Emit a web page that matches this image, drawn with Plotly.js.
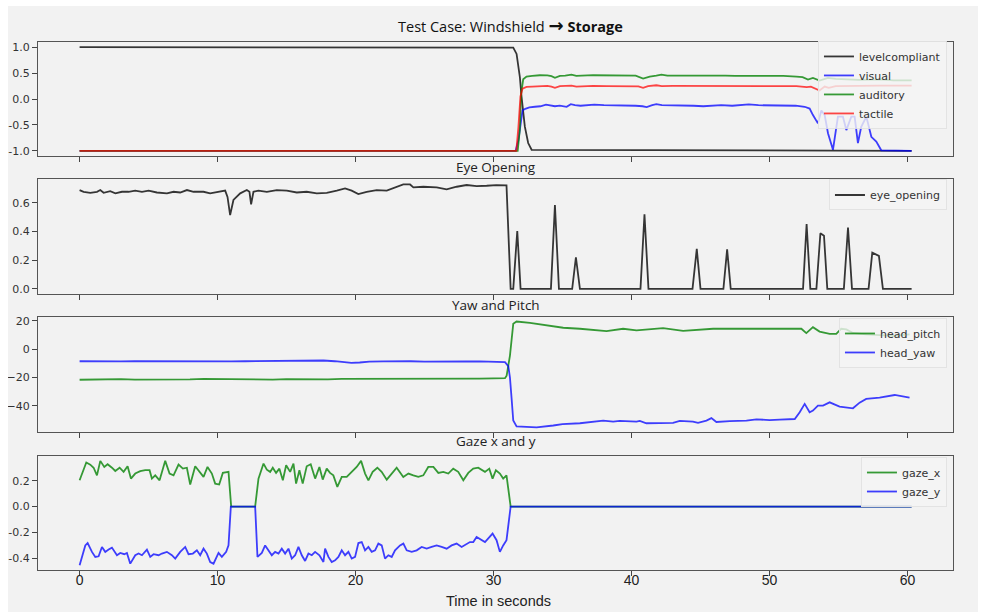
<!DOCTYPE html>
<html>
<head>
<meta charset="utf-8">
<script src="https://cdn.plot.ly/plotly-3.0.1.min.js"></script>
<style>
  html, body { margin: 0; padding: 0; background: #ffffff; }
  #chart { position: absolute; left: 8px; top: 6px; width: 970px; height: 606px; }
</style>
</head>
<body>
<div id="chart"></div>
<script>
// ---------------- DATA ----------------
// Panel 1: compliance levels
const lcT = [0, 31.2, 31.43, 31.67, 31.91, 32.03, 32.27, 32.51, 32.76, 60.3];
const lcV = [1, 1, 0.99, 0.87, 0.42, 0.04, -0.535, -0.85, -0.98, -1];

const visT = [0, 31.6, 31.8, 31.95, 32.1, 32.3, 32.6, 33.0, 33.4, 33.8, 34.2, 34.45, 34.8, 35.3, 35.6, 35.9, 36.3, 36.8, 37.3, 38.0, 38.7, 39.4, 40.3, 40.8, 41.1, 41.5, 41.8, 42.2, 43.0, 43.8, 44.5, 45.2, 45.8, 46.5, 47.3, 48.0, 48.5, 49.2, 50.0, 51.0, 51.9, 52.55, 52.91, 53.15, 53.51, 53.76, 54.0, 54.24, 54.6, 54.96, 55.32, 55.57, 55.93, 56.17, 56.41, 56.65, 57.02, 57.38, 57.74, 58.1, 60.3];
const visV = [-1, -1, -0.8, -0.45, -0.22, -0.19, -0.16, -0.15, -0.14, -0.11, -0.12, -0.14, -0.13, -0.15, -0.1, -0.12, -0.13, -0.12, -0.11, -0.12, -0.12, -0.125, -0.13, -0.14, -0.155, -0.12, -0.1, -0.12, -0.12, -0.13, -0.13, -0.14, -0.13, -0.12, -0.13, -0.12, -0.105, -0.12, -0.12, -0.12, -0.13, -0.15, -0.185, -0.31, -0.47, -0.22, -0.31, -0.66, -0.98, -0.34, -0.34, -0.6, -0.34, -0.34, -0.85, -0.535, -0.34, -0.73, -0.82, -0.99, -1];

const audT = [0, 31.75, 31.9, 32.0, 32.15, 32.39, 32.8, 33.36, 33.9, 34.2, 34.45, 34.81, 35.2, 35.65, 36.0, 36.26, 36.8, 37.22, 38.0, 38.67, 39.5, 40.3, 40.84, 41.32, 41.8, 42.17, 42.6, 43.5, 44.5, 45.2, 45.91, 46.8, 47.5, 48.33, 49.2, 50.1, 51.0, 51.95, 52.4, 52.79, 53.15, 53.63, 54.24, 54.8, 55.57, 56.5, 57.98, 59.0, 60.3];
const audV = [-1, -1, -0.6, 0.1, 0.38, 0.433, 0.445, 0.458, 0.455, 0.44, 0.408, 0.446, 0.45, 0.471, 0.448, 0.446, 0.455, 0.458, 0.455, 0.452, 0.452, 0.45, 0.395, 0.433, 0.45, 0.471, 0.45, 0.452, 0.45, 0.446, 0.446, 0.452, 0.446, 0.446, 0.45, 0.446, 0.446, 0.433, 0.42, 0.376, 0.408, 0.357, 0.408, 0.39, 0.38, 0.37, 0.38, 0.36, 0.36];

const tacT = [0, 31.65, 31.8, 31.95, 32.1, 32.39, 32.8, 33.36, 33.9, 34.2, 34.45, 34.81, 35.3, 35.65, 36.0, 36.5, 37.22, 38.2, 39.0, 40.0, 40.5, 40.84, 41.2, 41.8, 42.2, 43.0, 44.0, 45.0, 46.0, 47.0, 48.0, 49.0, 50.0, 51.0, 51.95, 52.7, 53.0, 53.63, 54.0, 54.3, 54.8, 55.5, 56.5, 58.0, 59.5, 60.3];
const tacV = [-1, -1, -0.55, 0.05, 0.2, 0.235, 0.24, 0.25, 0.255, 0.24, 0.216, 0.25, 0.25, 0.26, 0.24, 0.25, 0.255, 0.25, 0.25, 0.25, 0.245, 0.216, 0.25, 0.265, 0.25, 0.252, 0.25, 0.248, 0.25, 0.25, 0.25, 0.248, 0.25, 0.248, 0.25, 0.229, 0.24, 0.165, 0.24, 0.216, 0.25, 0.255, 0.255, 0.26, 0.26, 0.26];

// Panel 2: eye opening
const eyeT = [0, 0.29, 0.775, 1.26, 1.5, 1.74, 2.22, 2.59, 3.07, 3.55, 4.03, 4.52, 5.0, 5.6, 6.33, 6.81, 7.29, 7.78, 8.26, 8.98, 9.46, 10.07, 10.55, 10.72, 10.91, 11.15, 11.64, 12.12, 12.31, 12.43, 12.6, 12.96, 13.57, 14.29, 15.02, 15.74, 16.46, 17.19, 17.91, 18.64, 19.24, 19.72, 20.2, 20.81, 21.53, 22.26, 22.98, 23.46, 23.95, 24.19, 24.91, 25.88, 26.6, 27.33, 28.05, 28.78, 29.5, 30.2, 30.94, 31.24, 31.43, 31.72, 31.96, 34.16, 34.45, 34.74, 35.7, 35.97, 36.26, 40.65, 40.94, 41.23, 44.42, 44.73, 45.0, 46.66, 46.93, 47.19, 52.43, 52.69, 52.96, 53.4, 53.69, 53.95, 54.19, 55.39, 55.69, 55.98, 57.18, 57.45, 57.93, 58.22, 60.3];
const eyeV = [0.688, 0.676, 0.669, 0.676, 0.688, 0.669, 0.68, 0.665, 0.676, 0.676, 0.684, 0.676, 0.684, 0.671, 0.665, 0.676, 0.671, 0.688, 0.676, 0.676, 0.665, 0.676, 0.684, 0.64, 0.514, 0.619, 0.665, 0.688, 0.676, 0.588, 0.676, 0.684, 0.676, 0.688, 0.684, 0.671, 0.676, 0.665, 0.669, 0.684, 0.70, 0.684, 0.66, 0.676, 0.688, 0.684, 0.711, 0.728, 0.727, 0.707, 0.711, 0.707, 0.693, 0.711, 0.723, 0.716, 0.718, 0.722, 0.72, 0, 0, 0.403, 0, 0, 0.584, 0, 0, 0.22, 0, 0, 0.519, 0, 0, 0.278, 0, 0, 0.275, 0, 0, 0.452, 0, 0, 0.387, 0.37, 0, 0, 0.426, 0, 0, 0.252, 0.229, 0, 0];

// Panel 3: head yaw and pitch
const pitchT = [0, 1, 2, 3, 4, 5, 6, 7, 8, 9, 10, 11, 12, 13, 14, 15, 16, 17, 18, 19, 20, 21, 22, 23, 24, 25, 26, 27, 28, 29, 30, 30.83, 30.95, 31.19, 31.43, 31.67, 32.64, 33.84, 35.05, 36.26, 38.19, 39.39, 40.36, 42.29, 43.74, 45.91, 48.33, 50.74, 51.83, 52.31, 52.67, 53.15, 53.63, 54.36, 54.84, 55.2, 55.57, 56.05, 57.0, 58.0, 59.0, 60.15];
const pitchV = [-21.6, -21.3, -21.4, -21.2, -21.5, -21.6, -21.3, -21.5, -21.4, -21.0, -21.2, -21.4, -21.6, -21.3, -21.5, -21.2, -21.3, -21.5, -21.3, -21.0, -21.0, -21.1, -21.3, -20.9, -21.2, -21.0, -20.8, -20.9, -21.0, -20.8, -20.7, -20.5, -18.7, -4.5, 18.0, 19.6, 18.7, 16.8, 15.2, 14.5, 12.8, 14.5, 13.3, 15.0, 13.0, 14.5, 14.5, 14.0, 14.0, 14.5, 11.4, 15.6, 12.5, 10.8, 10.8, 14.5, 14.0, 11.5, 10.5, 10.0, 9.5, 10.5];

const yawT = [0, 1, 2, 3, 4, 5, 6, 7, 8, 9, 10, 11, 12, 13, 14, 15, 16, 17, 17.67, 18.5, 19.2, 19.7, 20.3, 21, 22, 23, 24, 25, 26, 27, 28, 29, 30, 30.83, 31.07, 31.19, 31.31, 31.43, 31.67, 33.12, 34.33, 35.0, 36.26, 37.5, 37.95, 38.67, 39.15, 40.36, 40.6, 41.08, 42.29, 43.01, 43.5, 44.45, 44.82, 45.43, 45.79, 46.15, 47.12, 48.33, 49.05, 50.01, 50.74, 51.83, 52.19, 52.55, 52.91, 53.15, 53.51, 53.88, 54.36, 54.72, 55.08, 56.05, 56.53, 57.01, 57.98, 59.07, 60.15];
const yawV = [-8.5, -8.7, -8.5, -8.6, -8.4, -8.5, -8.5, -8.3, -8.5, -8.4, -8.5, -8.6, -8.5, -8.4, -8.6, -8.5, -8.4, -8.2, -8.0, -8.5, -9.2, -9.7, -9.4, -8.8, -8.6, -8.4, -8.5, -8.8, -8.6, -8.4, -8.7, -8.6, -8.8, -9.1, -12.0, -20.0, -35.0, -50.5, -54.6, -55.3, -54.0, -53.0, -52.4, -51.2, -50.5, -51.2, -50.7, -51.2, -50.7, -52.4, -52.4, -52.1, -50.7, -51.2, -52.1, -50.5, -48.8, -51.5, -50.9, -50.5, -49.6, -50.2, -49.9, -49.4, -44.6, -38.7, -44.6, -43.4, -39.9, -39.9, -37.6, -39.2, -40.6, -41.8, -37.8, -35.2, -34.3, -32.4, -34.3];

// Panel 4: gaze
const gxT = [0, 0.485, 0.775, 1.016, 1.258, 1.5, 1.789, 2.03, 2.344, 2.585, 2.899, 3.189, 3.478, 3.72, 4.033, 4.395, 4.758, 5.071, 5.24, 5.482, 5.795, 6.206, 6.52, 6.809, 7.171, 7.485, 7.775, 8.016, 8.378, 8.692, 8.982, 9.271, 9.585, 9.826, 10.116, 10.381, 10.792, 10.985, 12.723, 12.964, 13.33, 13.57, 13.81, 14.0, 14.24, 14.48, 14.73, 14.97, 15.26, 15.5, 15.69, 15.93, 16.17, 16.46, 16.75, 17.07, 17.38, 17.62, 17.91, 18.15, 18.39, 18.68, 19.0, 19.36, 19.72, 20.08, 20.4, 20.69, 20.93, 21.24, 21.58, 21.89, 22.26, 22.62, 22.98, 23.46, 23.83, 24.19, 24.55, 24.91, 25.27, 25.64, 26.0, 26.36, 26.72, 27.08, 27.44, 27.81, 28.17, 28.53, 28.89, 29.38, 29.69, 29.93, 30.17, 30.46, 30.7, 30.94, 31.24, 60.3];
const gxV = [0.203, 0.34, 0.324, 0.3, 0.241, 0.353, 0.306, 0.327, 0.3, 0.275, 0.3, 0.268, 0.311, 0.216, 0.255, 0.273, 0.281, 0.281, 0.216, 0.241, 0.203, 0.353, 0.255, 0.241, 0.324, 0.293, 0.3, 0.17, 0.311, 0.268, 0.229, 0.306, 0.255, 0.177, 0.17, 0.26, 0.268, 0, 0, 0.216, 0.332, 0.285, 0.268, 0.3, 0.26, 0.293, 0.203, 0.319, 0.268, 0.332, 0.177, 0.281, 0.177, 0.311, 0.327, 0.216, 0.306, 0.208, 0.293, 0.26, 0.241, 0.152, 0.229, 0.229, 0.268, 0.306, 0.353, 0.255, 0.203, 0.268, 0.3, 0.268, 0.208, 0.255, 0.3, 0.229, 0.255, 0.241, 0.229, 0.241, 0.306, 0.306, 0.26, 0.268, 0.255, 0.293, 0.268, 0.203, 0.26, 0.293, 0.3, 0.268, 0.293, 0.216, 0.281, 0.255, 0.216, 0.241, 0, 0];

const gyT = [0, 0.413, 0.582, 0.896, 1.137, 1.378, 1.62, 1.861, 2.103, 2.344, 2.706, 2.947, 3.237, 3.43, 3.672, 4.033, 4.275, 4.516, 4.878, 5.12, 5.361, 5.723, 5.964, 6.326, 6.688, 6.93, 7.292, 7.654, 7.895, 8.209, 8.499, 8.74, 8.982, 9.223, 9.465, 9.706, 10.068, 10.31, 10.623, 10.792, 10.961, 12.723, 12.892, 13.206, 13.447, 13.688, 13.93, 14.171, 14.413, 14.654, 14.895, 15.137, 15.378, 15.62, 15.861, 16.103, 16.344, 16.585, 16.827, 17.068, 17.382, 17.671, 17.792, 18.033, 18.275, 18.516, 18.757, 18.999, 19.24, 19.482, 19.723, 19.965, 20.206, 20.447, 20.689, 20.93, 21.171, 21.413, 21.654, 21.895, 22.137, 22.378, 22.62, 22.861, 23.223, 23.465, 23.706, 24.068, 24.43, 24.792, 25.153, 25.515, 25.877, 26.239, 26.601, 26.963, 27.325, 27.687, 28.049, 28.29, 28.532, 28.773, 29.38, 29.93, 30.22, 30.46, 30.7, 30.94, 31.24, 60.3];
const gyV = [-0.453, -0.3, -0.282, -0.35, -0.389, -0.384, -0.312, -0.35, -0.332, -0.317, -0.376, -0.358, -0.368, -0.358, -0.441, -0.376, -0.363, -0.376, -0.332, -0.389, -0.368, -0.376, -0.363, -0.35, -0.376, -0.402, -0.35, -0.312, -0.368, -0.363, -0.338, -0.376, -0.325, -0.363, -0.428, -0.441, -0.358, -0.389, -0.35, -0.3, 0, 0, -0.389, -0.358, -0.3, -0.338, -0.376, -0.35, -0.363, -0.325, -0.363, -0.325, -0.402, -0.376, -0.312, -0.376, -0.42, -0.363, -0.376, -0.35, -0.376, -0.428, -0.325, -0.389, -0.428, -0.415, -0.389, -0.338, -0.376, -0.35, -0.402, -0.389, -0.282, -0.274, -0.338, -0.312, -0.35, -0.338, -0.286, -0.3, -0.402, -0.376, -0.389, -0.338, -0.3, -0.286, -0.338, -0.35, -0.338, -0.312, -0.325, -0.312, -0.3, -0.312, -0.325, -0.3, -0.286, -0.312, -0.286, -0.274, -0.274, -0.235, -0.274, -0.209, -0.26, -0.35, -0.3, -0.26, 0, 0];

// Tick labels
const xTicks = [0, 10, 20, 30, 40, 50, 60];
const xTickText = ['0', '10', '20', '30', '40', '50', '60'];
const y1Ticks = [-1, -0.5, 0, 0.5, 1];
const y1TickText = ['-1.0', '-0.5', '0.0', '0.5', '1.0'];
const y2Ticks = [0, 0.2, 0.4, 0.6];
const y2TickText = ['0.0', '0.2', '0.4', '0.6'];
const y3Ticks = [-40, -20, 0, 20];
const y3TickText = ['\u221240', '\u221220', '0', '20'];
const y4Ticks = [-0.4, -0.2, 0, 0.2];
const y4TickText = ['-0.4', '-0.2', '0.0', '0.2'];

// Titles
const mainTitle = 'Test Case: Windshield <span style="font-family:\'DejaVu Sans\';font-weight:bold;font-size:18px">\u2192</span> <b>Storage</b>';
const panelTitles = ['Eye Opening', 'Yaw and Pitch', 'Gaze x and y'];
const xTitle = 'Time in seconds';

// ---------------- STYLE ----------------
const C_BLACK = 'rgba(0,0,0,0.78)';
const C_BLUE = 'rgba(0,0,255,0.75)';
const C_GREEN = 'rgba(0,128,0,0.78)';
const C_RED = 'rgba(255,0,0,0.72)';
const LW = 1.8;

function tr(x, y, name, color, xa, ya, leg) {
  return { x: x, y: y, name: name, type: 'scatter', mode: 'lines',
           line: { color: color, width: LW }, xaxis: xa, yaxis: ya, legend: leg };
}

const traces = [
  tr(lcT, lcV, 'levelcompliant', C_BLACK, 'x', 'y', 'legend'),
  tr(visT, visV, 'visual', C_BLUE, 'x', 'y', 'legend'),
  tr(audT, audV, 'auditory', C_GREEN, 'x', 'y', 'legend'),
  tr(tacT, tacV, 'tactile', C_RED, 'x', 'y', 'legend'),
  tr(eyeT, eyeV, 'eye_opening', C_BLACK, 'x2', 'y2', 'legend2'),
  tr(pitchT, pitchV, 'head_pitch', C_GREEN, 'x3', 'y3', 'legend3'),
  tr(yawT, yawV, 'head_yaw', C_BLUE, 'x3', 'y3', 'legend3'),
  tr(gxT, gxV, 'gaze_x', C_GREEN, 'x4', 'y4', 'legend4'),
  tr(gyT, gyV, 'gaze_y', C_BLUE, 'x4', 'y4', 'legend4')
];

const X_RANGE = [-3.015, 63.3];
const tickFont = { family: 'DejaVu Sans', size: 11, color: '#333' };
function xa(anchor) {
  return { anchor: anchor, domain: [0, 1], range: X_RANGE, tickmode: 'array',
           tickvals: xTicks, ticktext: xTickText, showticklabels: false,
           ticks: 'outside', ticklen: 5, tickwidth: 1, tickcolor: '#444',
           showline: true, mirror: true, linecolor: '#555', linewidth: 1,
           showgrid: false, zeroline: false };
}
function ya(anchor, dom, rng, vals, text) {
  return { anchor: anchor, domain: dom, range: rng, tickmode: 'array',
           tickvals: vals, ticktext: text, ticks: 'outside', ticklen: 5,
           tickwidth: 1, tickcolor: '#444', showline: true, mirror: true,
           linecolor: '#555', linewidth: 1, showgrid: false, zeroline: false,
           tickfont: tickFont };
}
function leg(y) {
  return { x: 0.9934, xanchor: 'right', y: y, yanchor: 'top',
           bgcolor: 'rgba(244,244,244,0.8)', bordercolor: 'rgba(225,225,225,0.9)',
           borderwidth: 1, font: { family: 'DejaVu Sans', size: 11, color: '#333' },
           itemwidth: 30, tracegroupgap: 0 };
}
const titleFont = { family: 'Open Sans', size: 13.5, color: '#222' };

const layout = {
  width: 970, height: 606,
  margin: { l: 30, r: 25, t: 36, b: 42, pad: 0 },
  paper_bgcolor: '#f2f2f2', plot_bgcolor: '#f2f2f2',
  showlegend: true,
  xaxis: xa('y'),
  xaxis2: xa('y2'),
  xaxis3: xa('y3'),
  xaxis4: xa('y4'),
  // label-only axis over the bottom panel (labels sit just below the tick marks)
  xaxis5: { overlaying: 'x4', anchor: 'y4', side: 'bottom', range: X_RANGE,
            tickmode: 'array', tickvals: xTicks, ticktext: xTickText,
            ticks: '', showline: false, showgrid: false, zeroline: false,
            tickfont: { family: 'Liberation Sans', size: 14, color: '#222' } },
  yaxis: ya('x', [0.7841, 1.0], [-1.1, 1.1], y1Ticks, y1TickText),
  yaxis2: ya('x2', [0.5227, 0.740], [-0.036, 0.763], y2Ticks, y2TickText),
  yaxis3: ya('x3', [0.2619, 0.4786], [-58.4, 22.6], y3Ticks, y3TickText),
  yaxis4: ya('x4', [0, 0.2165], [-0.49, 0.393], y4Ticks, y4TickText),
  legend: leg(1.002),
  legend2: leg(0.7396),
  legend3: leg(0.4773),
  legend4: leg(0.214),
  annotations: [
    { text: mainTitle, xref: 'paper', yref: 'paper', x: 0.516, y: 1.032,
      xanchor: 'center', yanchor: 'middle', showarrow: false,
      font: { family: 'Open Sans', size: 14.5, color: '#111' } },
    { text: panelTitles[0], xref: 'paper', yref: 'paper', x: 0.5, y: 0.763,
      xanchor: 'center', yanchor: 'middle', showarrow: false, font: titleFont },
    { text: panelTitles[1], xref: 'paper', yref: 'paper', x: 0.5, y: 0.502,
      xanchor: 'center', yanchor: 'middle', showarrow: false, font: titleFont },
    { text: panelTitles[2], xref: 'paper', yref: 'paper', x: 0.5, y: 0.2443,
      xanchor: 'center', yanchor: 'middle', showarrow: false, font: titleFont },
    { text: xTitle, xref: 'paper', yref: 'paper', x: 0.503, y: -0.0587,
      xanchor: 'center', yanchor: 'middle', showarrow: false,
      font: { family: 'Liberation Sans', size: 14.5, color: '#222' } }
  ]
};

// an invisible trace to register the label-only axis
traces.push({ x: [X_RANGE[0]], y: [0], type: 'scatter', mode: 'none',
              xaxis: 'x5', yaxis: 'y4', showlegend: false, hoverinfo: 'skip' });

Plotly.newPlot('chart', traces, layout, { staticPlot: true, displayModeBar: false });
</script>
</body>
</html>
